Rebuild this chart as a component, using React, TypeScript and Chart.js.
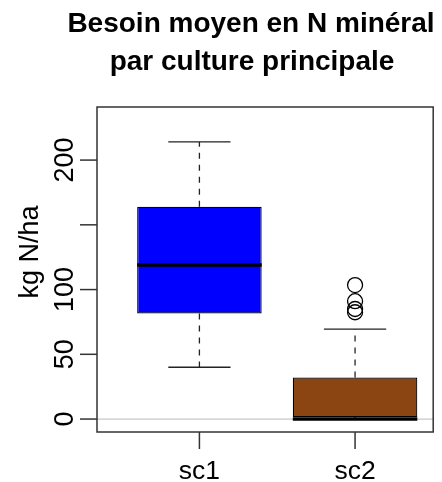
import React, { useEffect, useRef } from 'react';
import { Chart, registerables } from 'chart.js';

Chart.register(...registerables);

// ---- Data ----
const categories = ['sc1', 'sc2'];
const categoryPositions = [1, 2];
const whiskerLow = [40, 0];
const lowerQuartile = [81.5, 1.5];
const medianValues = [119, 0];
const upperQuartile = [164, 32];
const whiskerHigh = [214, 69.5];
const outlierCategory = [2, 2, 2, 2];
const outlierValues = [103.5, 91, 85, 82.5];
const boxColors = ['#0000FF', '#8B4513'];
const yTickValues = [0, 50, 100, 150, 200];
const yTickLabels = ['0', '50', '100', '', '200'];
const titleLines = ['Besoin moyen en N minéral', 'par culture principale'];
const yAxisTitle = 'kg N/ha';

const FONT = '"Liberation Sans", Arial, Helvetica, sans-serif';

const boxplotPlugin = {
  id: 'boxplotExtras',
  beforeDatasetsDraw(chart: any) {
    const { ctx, chartArea: a, scales } = chart;
    const x = scales.x;
    const y = scales.y;
    const meta = chart.getDatasetMeta(0);
    ctx.save();
    ctx.beginPath();
    ctx.rect(a.left, a.top, a.right - a.left, a.bottom - a.top);
    ctx.clip();
    // reference line at zero
    const y0 = y.getPixelForValue(0);
    ctx.strokeStyle = '#c8c8c8';
    ctx.lineWidth = 1.2;
    ctx.beginPath();
    ctx.moveTo(a.left, y0);
    ctx.lineTo(a.right, y0);
    ctx.stroke();
    categories.forEach((_, i) => {
      const bar = meta.data[i];
      const cx = x.getPixelForValue(categoryPositions[i]);
      const half = bar.width / 2;
      ctx.strokeStyle = '#222';
      ctx.lineWidth = 1.3;
      ctx.setLineDash([6, 6]);
      ctx.beginPath();
      ctx.moveTo(cx, y.getPixelForValue(lowerQuartile[i]));
      ctx.lineTo(cx, y.getPixelForValue(whiskerLow[i]));
      ctx.moveTo(cx, y.getPixelForValue(upperQuartile[i]));
      ctx.lineTo(cx, y.getPixelForValue(whiskerHigh[i]));
      ctx.stroke();
      ctx.setLineDash([]);
      ctx.beginPath();
      const yl = y.getPixelForValue(whiskerLow[i]);
      const yh = y.getPixelForValue(whiskerHigh[i]);
      ctx.moveTo(cx - half / 2, yl);
      ctx.lineTo(cx + half / 2, yl);
      ctx.moveTo(cx - half / 2, yh);
      ctx.lineTo(cx + half / 2, yh);
      ctx.stroke();
    });
    ctx.restore();
  },
  afterDatasetsDraw(chart: any) {
    const { ctx, scales } = chart;
    const x = scales.x;
    const y = scales.y;
    const meta = chart.getDatasetMeta(0);
    ctx.save();
    ctx.strokeStyle = '#000';
    ctx.lineWidth = 3.5;
    categories.forEach((_, i) => {
      const bar = meta.data[i];
      const cx = x.getPixelForValue(categoryPositions[i]);
      const half = bar.width / 2;
      const ym = y.getPixelForValue(medianValues[i]);
      ctx.beginPath();
      ctx.moveTo(cx - half, ym);
      ctx.lineTo(cx + half, ym);
      ctx.stroke();
    });
    ctx.restore();
  },
  afterDraw(chart: any) {
    const { ctx, chartArea: a, scales } = chart;
    const x = scales.x;
    const y = scales.y;
    ctx.save();
    // frame
    ctx.strokeStyle = '#333';
    ctx.lineWidth = 1.5;
    ctx.strokeRect(a.left, a.top, a.right - a.left, a.bottom - a.top);
    // y ticks and labels
    ctx.fillStyle = '#000';
    ctx.font = `27px ${FONT}`;
    yTickValues.forEach((v, i) => {
      const py = y.getPixelForValue(v);
      ctx.beginPath();
      ctx.moveTo(a.left - 17, py);
      ctx.lineTo(a.left, py);
      ctx.stroke();
      const lbl = yTickLabels[i];
      if (lbl) {
        ctx.save();
        ctx.translate(72.5, py);
        ctx.rotate(-Math.PI / 2);
        ctx.textAlign = 'center';
        ctx.textBaseline = 'alphabetic';
        ctx.fillText(lbl, 0, 0);
        ctx.restore();
      }
    });
    // x ticks and labels
    ctx.font = `26.5px ${FONT}`;
    ctx.textAlign = 'center';
    ctx.textBaseline = 'alphabetic';
    categories.forEach((c, i) => {
      const px = x.getPixelForValue(categoryPositions[i]);
      ctx.beginPath();
      ctx.moveTo(px, a.bottom);
      ctx.lineTo(px, a.bottom + 17);
      ctx.stroke();
      ctx.fillText(c, px, 479);
    });
    // y axis title
    ctx.save();
    ctx.font = `27px ${FONT}`;
    ctx.translate(37.5, 252);
    ctx.rotate(-Math.PI / 2);
    ctx.textAlign = 'center';
    ctx.fillText(yAxisTitle, 0, 0);
    ctx.restore();
    // main title
    ctx.font = `bold 28px ${FONT}`;
    ctx.textAlign = 'center';
    ctx.fillText(titleLines[0], 251, 32);
    ctx.fillText(titleLines[1], 252, 70);
    ctx.restore();
  },
};

export default function App() {
  const ref = useRef<HTMLCanvasElement>(null);
  useEffect(() => {
    if (!ref.current) return;
    const chart = new Chart(ref.current, {
      type: 'bar',
      data: {
        datasets: [
          {
            type: 'bar',
            data: categoryPositions.map((p, i) => ({ x: p, y: [lowerQuartile[i], upperQuartile[i]] })),
            backgroundColor: boxColors,
            borderColor: '#000',
            borderWidth: 1.2,
            borderSkipped: false,
            grouped: false,
            categoryPercentage: 0.8,
            barPercentage: 1,
            order: 2,
          } as any,
          {
            type: 'scatter',
            data: outlierValues.map((v, i) => ({ x: outlierCategory[i], y: v })),
            pointRadius: 7.5,
            pointBorderWidth: 1.3,
            pointBorderColor: '#000',
            pointBackgroundColor: 'rgba(0,0,0,0)',
            order: 1,
          } as any,
        ],
      },
      options: {
        responsive: false,
        animation: false,
        events: [],
        layout: { padding: { left: 97, top: 107, right: 4, bottom: 50 } },
        scales: {
          x: {
            type: 'linear',
            min: 0.342,
            max: 2.502,
            display: false,
            offset: false,
            afterBuildTicks: (scale: any) => {
              scale.ticks = categoryPositions.map((v) => ({ value: v }));
            },
          },
          y: { type: 'linear', min: -10, max: 241, display: false },
        },
        plugins: { legend: { display: false }, tooltip: { enabled: false } },
      } as any,
      plugins: [boxplotPlugin],
    });
    return () => chart.destroy();
  }, []);
  return (
    <div style={{ position: 'absolute', left: 0, top: 0, width: 442, height: 482, background: '#fff' }}>
      <canvas ref={ref} width={442} height={482} style={{ display: 'block' }} />
    </div>
  );
}
